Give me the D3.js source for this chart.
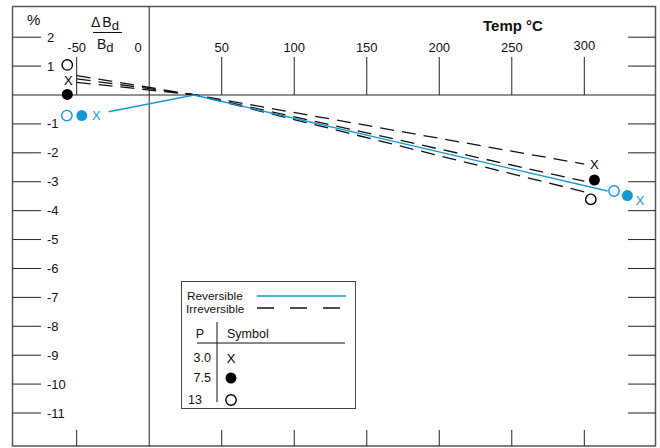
<!DOCTYPE html>
<html><head><meta charset="utf-8">
<script src="https://cdn.jsdelivr.net/npm/d3@7"></script>
<style>
html,body{margin:0;padding:0;background:#fff;}
svg{display:block;font-family:"Liberation Sans",Arial,Helvetica,sans-serif;}
</style></head>
<body>
<svg id="chart" width="660" height="448"></svg>
<script>
// ---- data ----
const tempTicks = [-50, 0, 50, 100, 150, 200, 250, 300];
const pctTicks = [2, 1, -1, -2, -3, -4, -5, -6, -7, -8, -9, -10, -11];

// Reversible (blue solid)
const revT = [-28, 31, 316];
const revV = [-0.58, 0, -3.32];

// Irreversible (black dashed), three pressures
const irrT = [-50, 32, 300];
const irrA = [0.67, 0, -2.39];
const irrB = [0.56, 0, -2.98];
const irrC = [0.44, 0, -3.35];

// Measured points: pressure 3.0 (X), 7.5 (filled), 13 (open)
const pressures = ["3.0", "7.5", "13"];
const blackT = { "3.0": [-55.8, 307], "7.5": [-56.5, 307], "13": [-56.5, 304.5] };
const blackV = { "3.0": [0.52, -2.39], "7.5": [0.02, -2.94], "13": [1.04, -3.61] };
const blueT = { "3.0": [-36.5, 338.4], "7.5": [-46.5, 329.7], "13": [-56.8, 320.5] };
const blueV = { "3.0": [-0.71, -3.66], "7.5": [-0.71, -3.48], "13": [-0.71, -3.32] };

const BLUE = "#1497d4";

// ---- scales ----
const svg = d3.select("#chart");
const x = d3.scaleLinear().domain([-50, 300]).range([76.7, 584.3]);
const y = d3.scaleLinear().domain([2, -11]).range([37.2, 413]);

const L = 12.5, R = 655.5, T = 6.5, B = 446;

// frame
svg.append("rect").attr("x", L).attr("y", T).attr("width", R - L).attr("height", B - T)
  .attr("fill", "none").attr("stroke", "#555").attr("stroke-width", 1.5);

// zero line and 0 °C line
svg.append("line").attr("x1", L).attr("x2", R).attr("y1", y(0)).attr("y2", y(0))
  .attr("stroke", "#222").attr("stroke-width", 1);
svg.append("line").attr("x1", x(0)).attr("x2", x(0)).attr("y1", T).attr("y2", B)
  .attr("stroke", "#222").attr("stroke-width", 1);

// y ticks left (inside) with labels, and right side ticks
const ytk = pctTicks;
svg.append("g").selectAll("line").data(ytk).join("line")
  .attr("x1", L).attr("x2", 41).attr("y1", d => y(d)).attr("y2", d => y(d))
  .attr("stroke", "#222").attr("stroke-width", 1);
svg.append("g").selectAll("line").data(ytk).join("line")
  .attr("x1", 628).attr("x2", R).attr("y1", d => y(d)).attr("y2", d => y(d))
  .attr("stroke", "#222").attr("stroke-width", 1);
svg.append("g").selectAll("text").data(ytk).join("text")
  .attr("x", 47).attr("y", d => y(d)).attr("dy", "0.35em")
  .attr("font-size", 13).attr("fill", "#111").text(d => d);

// x ticks top (from y=57 to zero line) and bottom
const xtk = tempTicks.filter(d => d !== 0);
svg.append("g").selectAll("line").data(xtk).join("line")
  .attr("x1", d => x(d)).attr("x2", d => x(d)).attr("y1", 57).attr("y2", y(0))
  .attr("stroke", "#222").attr("stroke-width", 1);
svg.append("g").selectAll("line").data(xtk).join("line")
  .attr("x1", d => x(d)).attr("x2", d => x(d)).attr("y1", 430).attr("y2", B)
  .attr("stroke", "#222").attr("stroke-width", 1);
svg.append("g").selectAll("text").data(tempTicks).join("text")
  .attr("x", d => d === 0 ? x(d) - 11 : x(d)).attr("y", d => d === 300 ? 50 : 52)
  .attr("text-anchor", "middle").attr("font-size", 13).attr("fill", "#111").text(d => d);

// titles
svg.append("text").attr("x", 513).attr("y", 30.5).attr("text-anchor", "middle")
  .attr("font-size", 15).attr("font-weight", "bold").attr("fill", "#111").text("Temp °C");
svg.append("text").attr("x", 27).attr("y", 25).attr("font-size", 15).attr("fill", "#111").text("%");
// ΔBd / Bd
const fr = svg.append("g").attr("fill", "#111");
const num = fr.append("text").attr("x", 91).attr("y", 27).attr("font-size", 14);
num.append("tspan").text("\u0394");
num.append("tspan").attr("dx", 2).text("B");
num.append("tspan").attr("dy", 3).attr("font-size", 13).text("d");
fr.append("line").attr("x1", 93).attr("x2", 122).attr("y1", 32.5).attr("y2", 32.5)
  .attr("stroke", "#111").attr("stroke-width", 1);
const den = fr.append("text").attr("x", 97).attr("y", 49).attr("font-size", 14);
den.append("tspan").text("B");
den.append("tspan").attr("dy", 3).attr("font-size", 13).text("d");

// lines
const line = d3.line().x(d => x(d[0])).y(d => y(d[1]));
[irrA, irrB, irrC].forEach(v => {
  svg.append("path").attr("d", line(irrT.map((t, i) => [t, v[i]])))
    .attr("fill", "none").attr("stroke", "#111").attr("stroke-width", 1.3)
    .attr("stroke-dasharray", "14,8");
});
svg.append("path").attr("d", line(revT.map((t, i) => [t, revV[i]])))
  .attr("fill", "none").attr("stroke", BLUE).attr("stroke-width", 1.4);

// markers
function marker(g, p, cx, cy, color) {
  if (p === "3.0") {
    g.append("text").attr("x", cx).attr("y", cy).attr("dy", "0.36em").attr("text-anchor", "middle")
      .attr("font-size", 13).attr("fill", color).text("X");
  } else if (p === "7.5") {
    g.append("circle").attr("cx", cx).attr("cy", cy).attr("r", 5.5).attr("fill", color);
  } else {
    g.append("circle").attr("cx", cx).attr("cy", cy).attr("r", 5.2).attr("fill", "#fff")
      .attr("stroke", color).attr("stroke-width", 1.4);
  }
}
const mg = svg.append("g");
pressures.forEach(p => {
  blackT[p].forEach((t, i) => marker(mg, p, x(t), y(blackV[p][i]), "#000"));
  blueT[p].forEach((t, i) => marker(mg, p, x(t), y(blueV[p][i]), BLUE));
});

// legend
const lg = svg.append("g");
lg.append("rect").attr("x", 181.5).attr("y", 281.5).attr("width", 174).attr("height", 127)
  .attr("fill", "#fff").attr("stroke", "#444").attr("stroke-width", 1);
lg.append("text").attr("x", 187).attr("y", 300).attr("font-size", 11.8).attr("fill", "#111").text("Reversible");
lg.append("line").attr("x1", 257).attr("x2", 346).attr("y1", 296).attr("y2", 296)
  .attr("stroke", BLUE).attr("stroke-width", 1.3);
lg.append("text").attr("x", 186).attr("y", 312.5).attr("font-size", 11.8).attr("fill", "#111").text("Irreversible");
lg.append("line").attr("x1", 257).attr("x2", 346).attr("y1", 308).attr("y2", 308)
  .attr("stroke", "#111").attr("stroke-width", 1.3).attr("stroke-dasharray", "17,16");
lg.append("text").attr("x", 200).attr("y", 338).attr("text-anchor", "middle").attr("font-size", 12.5).attr("fill", "#111").text("P");
lg.append("text").attr("x", 227).attr("y", 338).attr("font-size", 12.5).attr("fill", "#111").text("Symbol");
lg.append("line").attr("x1", 197).attr("x2", 345).attr("y1", 343).attr("y2", 343).attr("stroke", "#111");
lg.append("line").attr("x1", 217).attr("x2", 217).attr("y1", 322).attr("y2", 402).attr("stroke", "#111");
const rowY = [357, 377, 399];
pressures.forEach((p, i) => {
  lg.append("text").attr("x", p === "13" ? 188 : 211).attr("y", rowY[i]).attr("dy", "0.36em")
    .attr("text-anchor", p === "13" ? "start" : "end").attr("font-size", 12.5).attr("fill", "#111").text(p);
  marker(lg, p, 231, rowY[i] + 1, "#000");
});
</script>
</body></html>
